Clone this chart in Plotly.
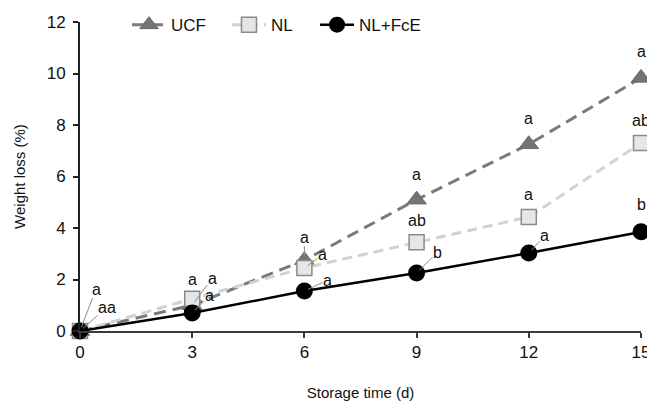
import plotly.graph_objects as go

days = [0, 3, 6, 9, 12, 15]
ucf = [0.0, 1.0, 2.75, 5.1, 7.25, 9.83]
nl = [0.0, 1.25, 2.45, 3.45, 4.43, 7.3]
nl_fce = [0.0, 0.7, 1.55, 2.25, 3.03, 3.85]

ucf_letters = ["a", "a", "a", "a", "a", "a"]
nl_letters = ["a", "a", "a", "ab", "a", "ab"]
fce_letters = ["a", "a", "a", "b", "a", "b"]

# label offsets (pixels, text centre relative to its point) and whether a leader line is drawn
ucf_off = [(16, -42, True), (20, -27, True), (0, -23, True), (0, -25, False), (0, -26, False), (0, -26, False)]
nl_off = [(27, -24, True), (0, -19, False), (18, -13, True), (0, -22, False), (0, -22, False), (0, -23, False)]
fce_off = [None, (17, -17, True), (23, -11, True), (21, -21, True), (16, -17, True), (0, -27, False)]

FONT = "Liberation Sans, Arial, sans-serif"
TXT = "#111111"

fig = go.Figure()
fig.add_trace(go.Scatter(
    x=days, y=ucf, name="UCF", mode="lines+markers", cliponaxis=False, legend="legend",
    line=dict(color="#7a7a7a", width=3, dash="12px,7px"),
    marker=dict(symbol="triangle-up", size=17, color="#747474", line=dict(color="#6a6a6a", width=1)),
))
fig.add_trace(go.Scatter(
    x=days, y=nl, name="NL", mode="lines+markers", cliponaxis=False, legend="legend2",
    line=dict(color="#d2d2d2", width=3, dash="10px,6px"),
    marker=dict(symbol="square", size=15, color="#e6e6e6", line=dict(color="#8a8a8a", width=1.5)),
))
fig.add_trace(go.Scatter(
    x=days, y=nl_fce, name="NL+FcE", mode="lines+markers", cliponaxis=False, legend="legend3",
    line=dict(color="#000000", width=2.5),
    marker=dict(symbol="circle", size=17, color="#000000"),
))

for vals, letters, offs in [(ucf, ucf_letters, ucf_off), (nl, nl_letters, nl_off), (nl_fce, fce_letters, fce_off)]:
    for i, (x, y, t, off) in enumerate(zip(days, vals, letters, offs)):
        if off is None:
            continue
        ax, ay, arrow = off
        # at day 0 the NL and NL+FcE letters sit side by side as one label
        if vals is nl and i == 0:
            t = nl_letters[0] + fce_letters[0]
        if arrow:
            fig.add_annotation(x=x, y=y, text=t, showarrow=True, ax=ax, ay=ay,
                               arrowhead=0, arrowwidth=1, arrowcolor="#8a8a8a", standoff=4,
                               borderpad=0, font=dict(family=FONT, size=16, color=TXT))
        else:
            fig.add_annotation(x=x, y=y, text=t, showarrow=False, xshift=ax, yshift=-ay,
                               borderpad=0, font=dict(family=FONT, size=16, color=TXT))

leg_common = dict(orientation="h", y=0.99, xanchor="left", yanchor="middle",
                  font=dict(family=FONT, size=17, color=TXT), bgcolor="rgba(0,0,0,0)", itemwidth=34)

# the page body adds an 8 px margin at left/top, so the figure is sized 8 px smaller
fig.update_layout(
    width=647, height=393,
    margin=dict(l=72, r=14, t=14, b=70, autoexpand=False),
    paper_bgcolor="white", plot_bgcolor="white",
    font=dict(family=FONT, size=16, color=TXT),
    showlegend=True,
    legend=dict(x=0.0838, **leg_common),
    legend2=dict(x=0.262, **leg_common),
    legend3=dict(x=0.419, **leg_common),
)
fig.update_xaxes(
    range=[0, 15], tickvals=days, ticktext=[str(d) for d in days],
    showgrid=False, zeroline=False, showline=True, linecolor="#3a3a3a", linewidth=2,
    ticks="outside", ticklen=5, tickcolor="#3a3a3a", tickwidth=1.5,
    tickfont=dict(family=FONT, size=17, color=TXT),
    title=dict(text="Storage time (d)", font=dict(family=FONT, size=15, color=TXT), standoff=27),
)
fig.update_yaxes(
    range=[0, 12], dtick=2, tick0=0,
    showgrid=False, zeroline=False, showline=True, linecolor="#222222", linewidth=2,
    ticks="outside", ticklen=5, tickcolor="#222222", tickwidth=1.5, ticklabelstandoff=4,
    tickfont=dict(family=FONT, size=17, color=TXT),
    title=dict(text="Weight loss (%)", font=dict(family=FONT, size=15, color=TXT), standoff=17),
)

fig.write_html("out.html")
